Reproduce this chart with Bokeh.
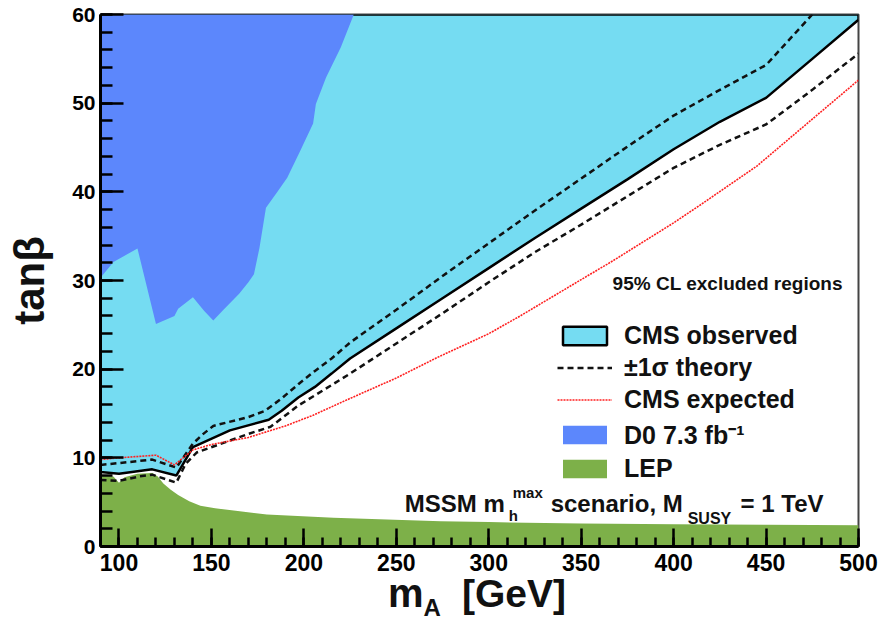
import numpy as np
from bokeh.plotting import figure
from bokeh.layouts import column
from bokeh.models import Range1d, SingleIntervalTicker, Label, Legend, LegendItem, Div
from bokeh.embed import file_html
from bokeh.resources import INLINE

# ---------------- data ----------------
X_MIN, X_MAX = 90, 500
Y_MIN, Y_MAX = 0, 60

# CMS observed limit (boundary of the excluded region, solid line)
obs_mass = [90, 100, 118, 131, 140, 160, 181, 188, 197, 206, 215, 225, 250, 275,
            300, 325, 350, 375, 400, 425, 450, 475, 500]
obs_tanb = [8.4, 8.2, 8.7, 8.0, 11.2, 13.1, 14.3, 15.3, 16.8, 18.0, 19.5, 21.2, 24.6, 28.0,
            31.4, 34.8, 38.1, 41.4, 44.8, 47.9, 50.6, 55.0, 59.4]

# +1 sigma theory (upper dashed)
th_up_mass = [90, 95, 118, 131, 140, 145, 151, 170, 179, 188, 197, 206, 215, 225, 250,
              275, 300, 325, 350, 375, 400, 425, 450, 475]
th_up_tanb = [9.2, 9.3, 9.8, 8.9, 11.6, 12.6, 13.6, 14.6, 15.3, 16.7, 18.3, 19.8, 21.2, 23.0, 26.7,
              30.5, 34.2, 37.9, 41.5, 45.1, 48.6, 51.5, 54.3, 60.0]

# -1 sigma theory (lower dashed)
th_dn_mass = [90, 100, 111, 118, 131, 136, 142, 170, 182, 197, 215, 225, 250, 275, 300,
              325, 350, 375, 400, 425, 450, 475, 500]
th_dn_tanb = [7.5, 7.4, 7.9, 8.1, 7.2, 9.3, 10.6, 12.7, 13.5, 15.9, 18.2, 19.5, 22.9, 26.3, 29.8,
              33.2, 36.3, 39.5, 42.7, 45.3, 47.6, 51.5, 55.6]

# CMS expected (red dotted)
exp_mass = [90, 100, 120, 130, 140, 150, 170, 190, 205, 225, 250, 272, 300, 317, 350,
            367, 400, 415, 445, 475, 500]
exp_tanb = [9.8, 10.0, 10.3, 9.2, 10.9, 11.5, 12.3, 13.6, 14.8, 16.7, 19.0, 21.3, 24.0, 26.0, 30.1,
            32.2, 36.5, 38.6, 42.9, 48.2, 52.6]

# D0 7.3 fb-1 excluded region (lower boundary)
d0_mass = [90, 97, 110, 120, 130, 132, 140, 146, 151, 156, 165, 170, 173, 176, 179.5,
           186, 191, 198, 205, 206.5, 212, 220, 227]
d0_tanb = [30.3, 32.1, 33.6, 25.1, 26.0, 26.8, 28.1, 26.6, 25.5, 26.6, 28.5, 29.8, 30.7, 33.7, 38.2,
           40.1, 41.6, 44.6, 47.7, 49.9, 52.9, 56.3, 60.0]

# LEP excluded region (upper boundary)
lep_mass = [90, 97, 100, 103, 110, 118, 121, 124, 128, 132, 138, 144, 152, 162, 180,
            216, 274, 300, 350, 400, 450, 500]
lep_tanb = [8.1, 7.9, 7.2, 7.8, 8.2, 8.3, 7.9, 7.1, 6.4, 5.8, 5.1, 4.6, 4.3, 4.05, 3.6,
            3.25, 2.85, 2.75, 2.6, 2.5, 2.45, 2.4]

legend_labels = ["CMS observed", "\u00b11\u03c3 theory", "CMS expected",
                 "D0 7.3 fb\u207b\u00b9", "LEP"]

CYAN = "#75DCF2"
BLUE = "#5C87FC"
GREEN = "#7DB049"
FONT = "Liberation Sans"

# ---------------- figure ----------------
p = figure(width=879, height=582, output_backend="svg", toolbar_location=None,
           x_range=Range1d(X_MIN, X_MAX), y_range=Range1d(Y_MIN, Y_MAX),
           min_border_left=100, min_border_right=21, min_border_top=14, min_border_bottom=36)
p.grid.visible = False
p.outline_line_color = "#444444"
p.outline_line_width = 2
p.background_fill_color = "white"
p.border_fill_color = "white"

lep = p.patch(x=[X_MIN] + lep_mass + [X_MAX], y=[Y_MIN] + lep_tanb + [Y_MIN],
              fill_color=GREEN, line_color=None)
cms = p.patch(x=obs_mass + [X_MAX, X_MIN], y=obs_tanb + [Y_MAX, Y_MAX],
              fill_color=CYAN, line_color="black", line_width=2.5)
d0 = p.patch(x=[X_MIN] + d0_mass, y=[Y_MAX] + d0_tanb,
             fill_color=BLUE, line_color=None)
th_up = p.line(th_up_mass, th_up_tanb, line_color="#111111", line_width=2.5, line_dash="6 4")
th_dn = p.line(th_dn_mass, th_dn_tanb, line_color="#111111", line_width=2.5, line_dash="6 4")
exp = p.line(exp_mass, exp_tanb, line_color="#ff2020", line_width=1.6, line_dash="2 1")

# ---------------- axes ----------------
p.xaxis.ticker = SingleIntervalTicker(interval=50, num_minor_ticks=5)
p.yaxis.ticker = SingleIntervalTicker(interval=10, num_minor_ticks=5)
for ax in (p.xaxis, p.yaxis):
    ax.axis_line_width = 3
    ax.axis_line_color = "black"
    ax.major_tick_out = 0
    ax.minor_tick_out = 0
    ax.major_tick_line_width = 2.5
    ax.minor_tick_line_width = 2.5
    ax.major_tick_line_color = "black"
    ax.minor_tick_line_color = "black"
    ax.major_label_text_font = FONT
    ax.major_label_text_font_style = "bold"
    ax.major_label_text_color = "black"
p.xaxis.major_tick_in = 18
p.xaxis.minor_tick_in = 9
p.yaxis.major_tick_in = 23
p.yaxis.minor_tick_in = 12
p.xaxis.major_label_text_font_size = "23px"
p.yaxis.major_label_text_font_size = "21px"
p.xaxis.major_label_standoff = 7
p.yaxis.major_label_standoff = 5

p.yaxis.axis_label = "tan\u03b2"
p.yaxis.axis_label_text_font = FONT
p.yaxis.axis_label_text_font_style = "bold"
p.yaxis.axis_label_text_font_size = "42px"
p.yaxis.axis_label_text_color = "#111111"
p.yaxis.axis_label_standoff = 16

# ---------------- legend ----------------
items = [LegendItem(label=legend_labels[0], renderers=[cms]),
         LegendItem(label=legend_labels[1], renderers=[th_up]),
         LegendItem(label=legend_labels[2], renderers=[exp]),
         LegendItem(label=legend_labels[3], renderers=[d0]),
         LegendItem(label=legend_labels[4], renderers=[lep])]
legend = Legend(items=items, location=(457, 63), padding=0, spacing=3,
                glyph_width=55, glyph_height=23, label_standoff=12, label_height=23,
                label_text_font=FONT, label_text_font_style="bold",
                label_text_font_size="25px", label_text_color="#111111",
                background_fill_alpha=0, border_line_alpha=0)
p.add_layout(legend)


def lab(x, y, text, size):
    p.add_layout(Label(x=x, y=y, text=text, text_font=FONT, text_font_style="bold",
                       text_font_size=size, text_color="#111111",
                       text_baseline="alphabetic", text_align="left"))


# annotation texts
lab(367, 29.65, "95% CL excluded regions", "19px")
lab(254.6, 4.85, "MSSM m", "24px")
lab(313.0, 6.14, "max", "15px")
lab(310.8, 3.5, "h", "15px")
lab(333.5, 4.85, "scenario, M", "24px")
lab(407.6, 3.16, "SUSY", "16px")
lab(436.2, 4.85, "= 1 TeV", "24px")

# x-axis title (with subscript) below the plot
xtitle = Div(
    text=('<div style="font-family: \'Liberation Sans\', Arial, sans-serif; font-weight: bold; '
          'font-size: 40px; line-height: 22px; padding-left: 388px; color: #111111; '
          'white-space: nowrap;">m<span style="font-size: 24px; position: relative; top: 9px;">A</span>'
          '<span style="margin-left: 21px; font-size: 39px;">[GeV]</span></div>'),
    width=879, height=38, margin=(0, 0, 0, 0))

layout = column(p, xtitle, spacing=0)
open("out.html", "w").write(file_html(layout, INLINE))
